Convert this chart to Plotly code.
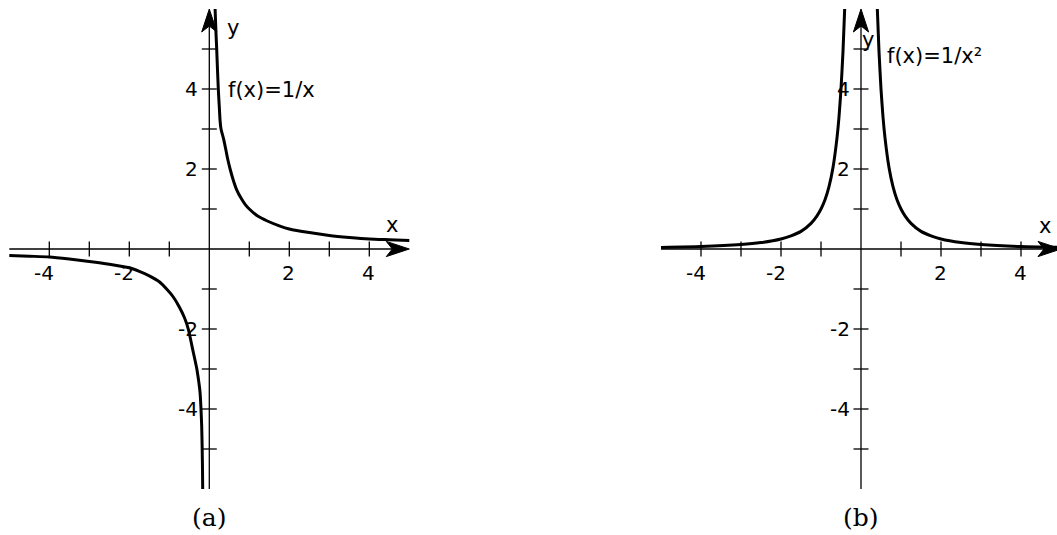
import plotly.graph_objects as go

# ---- data -------------------------------------------------------------
# f(x) = 1/x, right branch
recip_pos_x = [0.145, 0.165, 0.185, 0.2, 0.225, 0.25, 0.27, 0.29, 0.31, 0.36, 0.41,
               0.46, 0.52, 0.6, 0.685, 0.8, 0.9, 1.0, 1.2, 1.45, 1.75, 2.0, 2.5,
               3.0, 3.5, 4.0, 4.5, 5.0]
recip_pos_y = [6.0, 5.45, 5.0, 4.6, 4.0, 3.55, 3.2, 3.02, 2.93, 2.74, 2.5,
               2.25, 2.0, 1.72, 1.48, 1.26, 1.11, 1.0, 0.83, 0.7, 0.58, 0.5, 0.41,
               0.34, 0.29, 0.25, 0.23, 0.21]
# f(x) = 1/x, left branch
recip_neg_x = [-5.0, -4.5, -4.0, -3.5, -3.0, -2.5, -2.0, -1.75, -1.5, -1.25, -1.05,
               -0.9, -0.75, -0.62, -0.52, -0.47, -0.42, -0.37, -0.315, -0.28, -0.25,
               -0.23, -0.21, -0.19, -0.178, -0.17, -0.165]
recip_neg_y = [-0.16, -0.18, -0.2, -0.25, -0.31, -0.38, -0.47, -0.56, -0.67, -0.82,
               -1.02, -1.2, -1.45, -1.72, -2.02, -2.25, -2.49, -2.72, -2.98, -3.2,
               -3.42, -3.6, -3.95, -4.43, -5.0, -5.5, -6.0]
# f(x) = 1/x^2, both branches
sq_left_x = [-5.0, -4.0, -3.0, -2.5, -2.0, -1.75, -1.5, -1.25, -1.1, -1.0, -0.9,
             -0.8, -0.7, -0.6, -0.55, -0.5, -0.45, -0.408]
sq_left_y = [0.04, 0.06, 0.11, 0.16, 0.25, 0.33, 0.44, 0.64, 0.83, 1.0, 1.23,
             1.56, 2.04, 2.78, 3.3, 4.0, 4.94, 6.0]
sq_right_x = [0.408, 0.45, 0.5, 0.55, 0.6, 0.7, 0.8, 0.9, 1.0, 1.1, 1.25, 1.5,
              1.75, 2.0, 2.5, 3.0, 4.0, 5.0]
sq_right_y = [6.0, 4.94, 4.0, 3.3, 2.78, 2.04, 1.56, 1.23, 1.0, 0.83, 0.64, 0.44,
              0.33, 0.25, 0.16, 0.11, 0.06, 0.04]

# axis ticks and labels
tick_x = [-4, -3, -2, -1, 1, 2, 3, 4]
tick_y = [-5, -4, -3, -2, -1, 1, 2, 3, 4, 5]
label_x = [-4, -2, 2, 4]
label_y = [-4, -2, 2, 4]

# ---- geometry ---------------------------------------------------------
W, H = 1057, 535
PX = 40.0                 # pixels per unit on both axes
ORIGIN_Y = 249.0          # pixel row of y = 0 in both panels
X_END, Y_END = 5.0, 6.0   # axis arrow tips
TICK_HALF = 7.5 / PX
ARROW_LEN, ARROW_HALF, ARROW_NOTCH = 23 / PX, 7.6 / PX, 17 / PX

SANS = "DejaVu Sans"
SERIF = "DejaVu Serif"

panels = [
    dict(xa="x", ya="y", dom=[0, 0.5], ox=209.3,
         curves=[(recip_pos_x, recip_pos_y), (recip_neg_x, recip_neg_y)],
         name="f(x)=1/x", name_pos=(0.42, 3.97), ylab=(0.59, 5.53),
         xlab=(4.57, 0.59), caption="(a)"),
    dict(xa="x2", ya="y2", dom=[0.5, 1.0], ox=861.0,
         curves=[(sq_left_x, sq_left_y), (sq_right_x, sq_right_y)],
         name="f(x)=1/x²", name_pos=(0.59, 4.83), ylab=(0.175, 5.23),
         xlab=(4.6, 0.57), caption="(b)"),
]

fig = go.Figure()
shapes, annotations = [], []
layout_axes = {}

for i, p in enumerate(panels):
    xa, ya = p["xa"], p["ya"]
    left_px = p["dom"][0] * W
    right_px = p["dom"][1] * W
    xr = [(left_px - p["ox"]) / PX, (right_px - p["ox"]) / PX]
    yr = [(ORIGIN_Y - H) / PX, ORIGIN_Y / PX]
    key = "" if i == 0 else str(i + 1)
    layout_axes["xaxis" + key] = dict(domain=p["dom"], range=xr, visible=False,
                                      fixedrange=True, anchor=ya)
    layout_axes["yaxis" + key] = dict(domain=[0, 1], range=yr, visible=False,
                                      fixedrange=True, anchor=xa)

    for cx, cy in p["curves"]:
        fig.add_trace(go.Scatter(x=cx, y=cy, xaxis=xa, yaxis=ya, mode="lines",
                                 line=dict(color="black", width=3,
                                           shape="spline", smoothing=0.6),
                                 hoverinfo="skip", showlegend=False))

    ax_line = dict(color="black", width=1.3)
    # axis lines
    shapes.append(dict(type="line", xref=xa, yref=ya, x0=-X_END, x1=X_END - ARROW_NOTCH,
                       y0=0, y1=0, line=ax_line))
    shapes.append(dict(type="line", xref=xa, yref=ya, x0=0, x1=0, y0=-Y_END,
                       y1=Y_END - ARROW_NOTCH, line=ax_line))
    # arrowheads
    bx = X_END - ARROW_LEN
    shapes.append(dict(type="path", xref=xa, yref=ya, fillcolor="black",
                       line=dict(color="black", width=1),
                       path=f"M {X_END},0 L {bx},{ARROW_HALF} L {X_END - ARROW_NOTCH},0 "
                            f"L {bx},{-ARROW_HALF} Z"))
    by = Y_END - ARROW_LEN
    shapes.append(dict(type="path", xref=xa, yref=ya, fillcolor="black",
                       line=dict(color="black", width=1),
                       path=f"M 0,{Y_END} L {ARROW_HALF},{by} L 0,{Y_END - ARROW_NOTCH} "
                            f"L {-ARROW_HALF},{by} Z"))
    # ticks
    for t in tick_x:
        shapes.append(dict(type="line", xref=xa, yref=ya, x0=t, x1=t,
                           y0=-TICK_HALF, y1=TICK_HALF, line=ax_line))
    for t in tick_y:
        shapes.append(dict(type="line", xref=xa, yref=ya, x0=-TICK_HALF, x1=TICK_HALF,
                           y0=t, y1=t, line=ax_line))
    # tick labels
    tick_font = dict(family=SANS, size=20, color="black")
    for t in label_x:
        if t < 0:
            annotations.append(dict(x=t, y=0, xref=xa, yref=ya, text=str(t),
                                    showarrow=False, xanchor="right", yanchor="middle",
                                    xshift=7, yshift=-24, font=tick_font))
        else:
            annotations.append(dict(x=t, y=0, xref=xa, yref=ya, text=str(t),
                                    showarrow=False, xanchor="center", yanchor="middle",
                                    xshift=-1, yshift=-24, font=tick_font))
    for t in label_y:
        annotations.append(dict(x=0, y=t, xref=xa, yref=ya, text=str(t),
                                showarrow=False, xanchor="right", yanchor="middle",
                                xshift=-9, font=tick_font))
    lab_font = dict(family=SANS, size=21, color="black")
    annotations.append(dict(x=p["ylab"][0], y=p["ylab"][1], xref=xa, yref=ya, text="y",
                            showarrow=False, xanchor="center", yanchor="middle",
                            font=lab_font))
    annotations.append(dict(x=p["xlab"][0], y=p["xlab"][1], xref=xa, yref=ya, text="x",
                            showarrow=False, xanchor="center", yanchor="middle",
                            font=lab_font))
    annotations.append(dict(x=p["name_pos"][0], y=p["name_pos"][1], xref=xa, yref=ya,
                            text=p["name"], showarrow=False, xanchor="left",
                            yanchor="middle", font=lab_font))
    # caption under the panel
    annotations.append(dict(x=p["ox"] / W, y=1 - 517 / H, xref="paper", yref="paper",
                            text=p["caption"], showarrow=False, xanchor="center",
                            yanchor="middle",
                            font=dict(family=SERIF, size=25, color="black")))

fig.update_layout(width=W, height=H, margin=dict(l=0, r=0, t=0, b=0),
                  paper_bgcolor="white", plot_bgcolor="white",
                  showlegend=False, hovermode=False,
                  shapes=shapes, annotations=annotations, **layout_axes)

fig.write_html("out.html", config=dict(displayModeBar=False))
